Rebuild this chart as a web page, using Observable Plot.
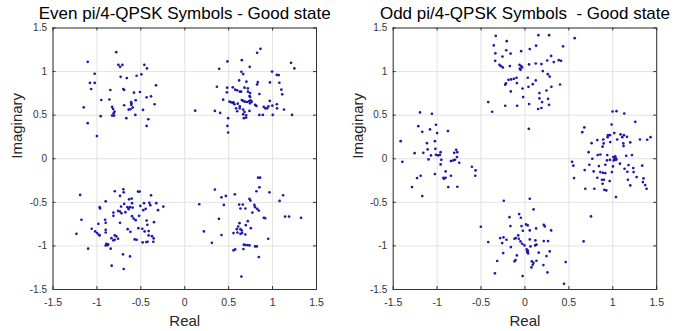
<!DOCTYPE html>
<html><head><meta charset="utf-8">
<script src="https://cdn.jsdelivr.net/npm/d3@7"></script>
<script src="https://cdn.jsdelivr.net/npm/@observablehq/plot@0.6"></script>
<style>
body{margin:0;background:#fff;}
#wrap{position:relative;width:687px;height:331px;font-family:"Liberation Sans",Arial,sans-serif;}
#wrap svg{position:absolute;top:0;}
#wrap svg text{white-space:pre;}
</style></head><body><div id="wrap"></div>
<script>
// ---- data ----
const ticks = [-1.5, -1, -0.5, 0, 0.5, 1, 1.5];
const tickLabels = ["-1.5", "-1", "-0.5", "0", "0.5", "1", "1.5"];
const titles = ["Even pi/4-QPSK Symbols - Good state", "Odd pi/4-QPSK Symbols  - Good state"];
const xLabel = "Real";
const yLabel = "Imaginary";

// Even symbols: real parts
const evenRe = [
 -0.78,-1.105,-1.025,-1.08,-1.025,-1.066,-1.15,-1.105,-1.0,-0.95,-0.847,-0.858,-0.957,-0.827,-0.816,-0.80,-0.81,-0.827,-0.805,-0.756,-0.736,-0.71,-0.73,-0.66,-0.70,-0.69,-0.665,-0.69,-0.611,-0.608,-0.608,-0.593,-0.619,-0.639,-0.578,-0.559,-0.5625,-0.548,-0.51,-0.494,-0.475,-0.46,-0.43,-0.434,-0.415,-0.434,-0.384,-0.343,-0.327,
 0.862,0.824,0.486,0.65,1.21,1.248,0.392,0.74,0.645,0.665,0.994,1.048,1.07,0.619,0.832,0.824,0.702,0.97,1.077,0.366,0.483,0.48,0.547,0.574,0.597,0.627,0.642,0.68,0.718,0.72,0.744,0.737,0.744,0.85,1.10,1.11,0.968,0.4375,0.51,0.528,0.555,0.566,0.547,0.65,0.665,0.684,0.707,0.73,0.748,0.763,0.744,0.343,0.403,0.604,0.627,0.585,0.627,0.597,0.665,0.68,0.699,0.737,0.673,0.699,0.665,0.801,0.816,0.85,0.889,0.9,0.9375,0.952,0.918,0.998,1.002,1.048,1.051,1.13,1.222,0.494,0.486,0.494,0.119,
 -1.191,-0.797,-0.699,-0.695,-0.737,-0.532,-0.513,-0.384,-0.968,-0.964,-0.9,-0.69,-0.725,-0.737,-0.72,-0.759,-0.8125,-0.634,-0.604,-0.6,-0.593,-0.653,-0.623,-0.639,-0.506,-0.403,-0.324,-0.464,-0.392,-0.445,-0.244,-0.305,-0.676,-0.6,-0.582,-0.559,-0.52,-0.472,-0.8125,-0.737,-0.907,-0.9,-1.176,-0.983,-0.434,-0.35,-0.483,-0.426,-0.528,-0.65,-1.059,-1.02,-0.998,-0.979,-0.968,-1.233,-0.9,-0.9,-0.835,-0.797,-0.778,-0.759,-0.797,-0.8125,-0.892,-0.873,-0.88,-0.9,-0.843,-1.1,-0.619,-0.57,-0.548,-0.457,-0.411,-0.479,-0.4375,-0.411,-0.423,-0.373,-0.354,-0.358,-0.703,-0.623,-0.832,-0.695,
 0.835,0.858,0.85,0.816,0.964,0.343,0.468,0.418,0.57,1.12,1.08,0.165,0.445,0.619,0.661,0.634,0.737,0.748,0.69,0.793,0.801,0.824,0.843,0.77,0.9,0.915,1.142,1.188,1.324,0.389,0.718,0.695,0.752,0.623,0.608,0.65,0.634,0.593,0.555,0.6,0.653,0.634,0.69,0.218,0.418,0.309,0.95,0.673,0.69,0.714,0.737,0.801,0.82,0.555,0.574,0.668,0.843,0.645
];
// Even symbols: imaginary parts
const evenIm = [
 1.223,1.112,0.975,0.87,0.87,0.80,0.59,0.408,0.26,0.674,0.789,0.68,0.488,0.594,0.571,0.54,0.52,0.495,0.495,1.078,1.055,1.078,0.94,0.926,0.80,0.789,0.465,0.614,0.651,0.636,0.617,0.587,0.568,0.564,0.758,0.671,0.503,0.952,0.766,0.968,0.56,1.078,1.036,0.705,0.453,0.377,0.716,0.625,0.842,
 1.261,1.215,1.116,1.131,1.10,1.036,1.032,1.055,0.998,0.971,1.0,0.962,0.96,0.899,0.88,0.853,0.884,0.876,0.872,0.826,0.815,0.762,0.819,0.792,0.785,0.769,0.769,0.815,0.808,0.77,0.754,0.72,0.709,0.743,0.792,0.739,0.663,0.678,0.655,0.648,0.648,0.625,0.64,0.674,0.663,0.655,0.651,0.659,0.67,0.655,0.636,0.549,0.526,0.632,0.602,0.579,0.579,0.545,0.564,0.537,0.499,0.549,0.465,0.472,0.51,0.617,0.606,0.503,0.503,0.594,0.579,0.602,0.579,0.609,0.503,0.625,0.579,0.564,0.503,0.465,0.377,0.301,0.552,
 -0.415,-0.373,-0.35,-0.385,-0.427,-0.377,-0.377,-0.42,-0.556,-0.57,-0.488,-0.518,-0.549,-0.606,-0.625,-0.598,-0.617,-0.465,-0.457,-0.51,-0.56,-0.556,-0.556,-0.579,-0.541,-0.506,-0.51,-0.51,-0.533,-0.575,-0.549,-0.59,-0.613,-0.659,-0.686,-0.705,-0.655,-0.59,-0.655,-0.735,-0.7,-0.735,-0.7,-0.746,-0.709,-0.728,-0.803,-0.758,-0.797,-0.808,-0.803,-0.834,-0.853,-0.872,-0.88,-0.861,-0.815,-0.846,-0.911,-0.88,-0.891,-0.918,-0.929,-0.937,-0.975,-0.983,-0.991,-0.994,-1.032,-1.032,-0.838,-0.926,-0.929,-0.834,-0.83,-0.96,-0.956,-0.88,-0.952,-0.888,-0.914,-0.952,-1.097,-1.12,-1.227,-1.265,
 -0.217,-0.217,-0.328,-0.373,-0.385,-0.354,-0.427,-0.442,-0.408,-0.419,-0.484,-0.522,-0.53,-0.526,-0.526,-0.571,-0.461,-0.48,-0.571,-0.53,-0.556,-0.575,-0.594,-0.617,-0.678,-0.682,-0.663,-0.663,-0.678,-0.689,-0.716,-0.762,-0.796,-0.739,-0.777,-0.823,-0.808,-0.808,-0.853,-0.846,-0.853,-0.861,-0.869,-0.834,-0.876,-0.964,-0.918,-0.986,-0.99,-0.99,-0.994,-1.006,-1.006,-1.051,-1.04,-1.036,-1.128,-1.352
];

// Odd symbols: real parts
const oddRe = [
 -0.332,0.153,0.275,0.566,-0.207,-0.355,0.434,0.127,-0.213,0.055,-0.043,-0.337,-0.256,-0.163,0.298,0.253,0.385,0.411,-0.339,-0.29,-0.275,-0.252,-0.172,-0.062,-0.043,-0.058,-0.032,-0.05,0.047,0.123,0.188,0.328,0.203,0.26,0.282,-0.096,-0.126,-0.157,-0.187,-0.217,-0.225,0.032,0.123,-0.092,0.089,0.04,0.4,-0.028,0.245,0.301,-0.161,0.165,-0.021,0.165,0.263,-0.418,-0.225,-0.089,0.047,0.195,0.275,0.15,0.188,-0.373,0.044,
 -1.195,-1.059,-1.214,-1.013,-1.169,-1.081,-1.0,-0.877,-1.415,-1.116,-1.025,-1.108,-1.02,-1.256,-1.157,-1.07,-1.013,-0.99,-0.968,-0.96,-1.098,-0.952,-1.396,-0.805,-0.783,-0.77,-0.774,-0.843,-0.816,-0.797,-0.748,-0.96,-0.604,-0.5625,-0.566,-1.025,-0.903,-0.843,-0.929,-0.922,-0.903,-1.187,-1.229,-1.286,-1.169,-0.873,-0.77,
 0.998,1.043,1.131,1.256,0.987,0.676,0.653,0.945,0.968,0.941,1.017,1.088,1.127,1.108,1.162,1.309,1.392,1.43,0.759,0.824,0.892,0.896,0.884,0.971,1.12,1.199,1.05,1.123,0.725,0.828,0.858,0.937,1.153,1.218,1.006,1.028,1.021,1.036,1.01,0.968,0.934,0.767,0.536,0.551,0.733,0.842,0.915,1.002,1.081,1.179,1.335,0.68,0.782,0.858,0.888,0.915,0.99,1.134,1.165,1.233,1.237,0.559,0.824,0.877,0.9,0.964,1.172,1.271,1.35,1.343,1.369,0.884,1.199,0.687,0.79,0.903,0.926,1.385,1.036,0.752,0.668,1.03,1.04,
 -0.241,0.055,0.098,-0.502,-0.176,-0.165,-0.066,-0.047,0.013,0.032,-0.039,-0.024,0.055,0.127,0.214,0.226,0.298,-0.104,-0.119,-0.077,-0.07,-0.051,-0.032,-0.006,-0.282,-0.244,-0.21,-0.259,-0.418,-0.161,0.055,0.119,0.063,0.116,0.131,0.214,0.263,-0.248,-0.092,0.025,0.036,0.032,0.157,0.245,0.282,-0.316,-0.119,-0.107,0.078,0.097,0.089,0.074,0.131,0.21,0.464,-0.342,-0.0265,0.256,0.445,0.02,0.03
];
// Odd symbols: imaginary parts
const oddIm = [
 1.41,1.418,1.418,1.383,1.349,1.30,1.29,1.297,1.245,1.258,1.234,1.21,1.173,1.207,1.18,1.127,1.131,1.123,1.123,1.078,1.063,1.048,1.063,1.078,1.063,1.033,1.048,1.02,1.082,1.093,1.086,1.109,1.006,0.97,0.943,0.929,0.917,0.91,0.906,0.864,0.849,0.929,0.899,0.868,0.856,0.825,0.852,0.806,0.783,0.825,0.772,0.753,0.707,0.692,0.688,0.65,0.608,0.608,0.627,0.65,0.619,0.571,0.582,0.539,0.343,
 0.531,0.515,0.374,0.39,0.309,0.336,0.294,0.317,0.202,0.179,0.202,0.107,0.114,0.064,0.068,0.038,0.045,0.038,0.045,0.076,-0.008,-0.012,-0.035,0.068,0.103,0.076,0.019,-0.027,-0.019,-0.012,-0.046,-0.065,-0.092,-0.134,-0.195,-0.176,-0.145,-0.195,-0.218,-0.23,-0.218,-0.195,-0.222,-0.325,-0.428,-0.325,-0.321,
 0.542,0.546,0.519,0.424,0.393,0.359,0.305,0.271,0.271,0.248,0.294,0.279,0.271,0.248,0.252,0.221,0.218,0.248,0.179,0.214,0.221,0.176,0.138,0.191,0.176,0.187,0.221,0.145,0.076,0.042,0.049,0.042,0.034,0.042,0.019,0.027,-0.004,-0.012,-0.019,-0.012,-0.019,0.0,-0.035,-0.08,-0.069,-0.084,-0.069,-0.088,-0.057,-0.073,-0.08,-0.13,-0.145,-0.153,-0.161,-0.164,-0.153,-0.115,-0.149,-0.107,-0.153,-0.222,-0.218,-0.241,-0.241,-0.256,-0.241,-0.21,-0.226,-0.268,-0.302,-0.287,-0.306,-0.344,-0.344,-0.356,-0.363,-0.344,-0.44,-0.662,-0.948,0.01,-0.005,
 -0.482,-0.459,-0.581,-0.78,-0.67,-0.772,-0.635,-0.677,-0.753,-0.765,-0.772,-0.826,-0.822,-0.799,-0.757,-0.776,-0.822,-0.91,-0.918,-0.88,-0.918,-0.948,-0.975,-0.994,-0.91,-0.902,-0.929,-0.967,-0.956,-1.013,-0.925,-0.937,-1.006,-0.994,-0.986,-0.945,-0.945,-1.082,-1.109,-1.07,-1.086,-1.063,-1.078,-1.116,-1.063,-1.173,-1.177,-1.162,-1.177,-1.193,-1.216,-1.247,-1.17,-1.22,-1.185,-1.315,-1.346,-1.304,-1.434,-1.04,-1.05
];

// ---- drawing ----
const FONT = "'Liberation Sans', Arial, Helvetica, sans-serif";
const H = 331, MT = 27.5, MB = 42;

function panel(re, im, title, W, ML, MR, labelDx) {
  const data = re.map((x, i) => ({x, y: im[i]}));
  const innerH = H - MT - MB;
  const innerW = W - ML - MR;
  const tl = 3;
  const fmt = d => tickLabels[ticks.indexOf(d)];
  return Plot.plot({
    width: W, height: H,
    marginLeft: ML, marginRight: MR, marginTop: MT, marginBottom: MB,
    style: {fontFamily: FONT, background: "transparent", overflow: "visible"},
    x: {domain: [-1.5, 1.5], label: null},
    y: {domain: [-1.5, 1.5], label: null},
    marks: [
      Plot.gridX(ticks, {stroke: "#e2e2e2", strokeOpacity: 1, strokeWidth: 1}),
      Plot.gridY(ticks, {stroke: "#e2e2e2", strokeOpacity: 1, strokeWidth: 1}),
      Plot.dot(data, {x: "x", y: "y", r: 1.35, fill: "#1c1ca6", stroke: null}),
      Plot.tickX(ticks, {x: d => d, insetTop: innerH - tl, stroke: "#333"}),
      Plot.tickX(ticks, {x: d => d, insetBottom: innerH - tl, stroke: "#333"}),
      Plot.tickY(ticks, {y: d => d, insetRight: innerW - tl, stroke: "#333"}),
      Plot.tickY(ticks, {y: d => d, insetLeft: innerW - tl, stroke: "#333"}),
      Plot.frame({stroke: "#333", strokeWidth: 1}),
      Plot.axisX(ticks, {anchor: "bottom", tickSize: 0, tickPadding: 9, tickFormat: fmt, fontSize: 10.5, color: "#333", label: null}),
      Plot.axisY(ticks, {anchor: "left", tickSize: 0, tickPadding: 6, tickFormat: fmt, fontSize: 10, color: "#333", label: null}),
      Plot.text([title], {text: d => d, frameAnchor: "top", lineAnchor: "bottom", dy: -9.5, fontSize: 17, fill: "#000"}),
      Plot.text([xLabel], {text: d => d, frameAnchor: "bottom", lineAnchor: "bottom", dy: 36, fontSize: 15, fill: "#262626"}),
      Plot.text([yLabel], {text: d => d, frameAnchor: "left", lineAnchor: "bottom", rotate: -90, dx: labelDx, fontSize: 15, fill: "#262626"})
    ]
  });
}

const wrap = document.getElementById("wrap");
const left = panel(evenRe, evenIm, titles[0], 344, 52.5, 28, -31.5);
left.style.left = "0px";
wrap.appendChild(left);
const right = panel(oddRe, oddIm, titles[1], 343, 48.7, 30.8, -30.5);
right.style.left = "344px";
wrap.appendChild(right);
</script>
</body></html>
